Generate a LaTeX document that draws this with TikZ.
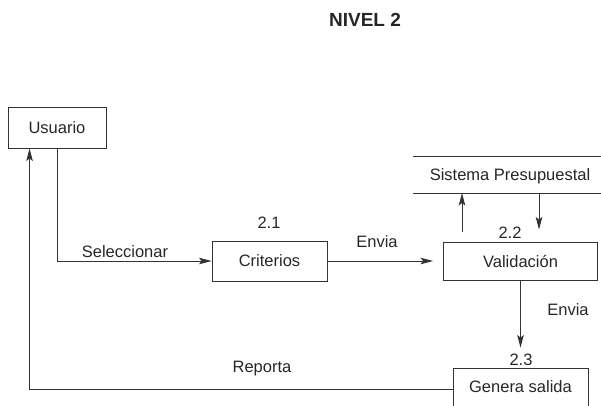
\documentclass[tikz,border=0pt]{standalone}
\usepackage{fontspec}
\setmainfont{Liberation Sans}
\usetikzlibrary{arrows.meta}
\begin{document}
\begin{tikzpicture}[x=1pt,y=-1pt,
  every node/.style={font=\fontsize{16.5}{19}\selectfont, text=black!85, inner sep=0pt},
  procbox/.style={draw=black!80, line width=0.9pt, rectangle},
  flow/.style={draw=black!80, line width=0.9pt, -{Stealth[length=12.5pt,width=6.5pt,inset=2.5pt]}},
  plain/.style={draw=black!80, line width=0.9pt}]
\useasboundingbox (0,0) rectangle (601,405);
\clip (0,0) rectangle (601,405);
% title
\node[font=\fontsize{19}{22}\selectfont\bfseries] (title) at (365,20) {NIVEL 2};
% boxes
\node[procbox, minimum width=98pt, minimum height=41pt] (usuario) at (57,127.5) {Usuario};
\node[procbox, minimum width=115pt, minimum height=40pt] (criterios) at (269.5,261) {Criterios};
\node[procbox, minimum width=154pt, minimum height=38pt] (valid) at (520.5,261) {Validación};
\node[procbox, minimum width=135pt, minimum height=38pt] (genera) at (520.5,387) {Genera salida};
% data store
\coordinate (sptl) at (413,156);
\coordinate (sptr) at (601,156);
\coordinate (spbl) at (413,193);
\coordinate (spbr) at (601,193);
\draw[plain] (sptl) -- (sptr);
\draw[plain] (spbl) -- (spbr);
\node (sp) at (510,176) {Sistema Presupuestal};
% numbers
\node (n21) at (269,223) {2.1};
\node (n22) at (510,233) {2.2};
\node (n23) at (521,360) {2.3};
% connectors
\draw[flow] (usuario.south) |- (criterios.west);
\node (lsel) at (125,252) {Seleccionar};
\draw[flow, shorten >=10pt] (criterios.east) -- (valid.west);
\node (lenv1) at (377,242) {Envia};
\coordinate (upst) at ([xshift=-58.5pt,yshift=10pt]valid.north);
\draw[flow] (upst) -- (upst |- spbl);
\coordinate (dnend) at ([xshift=18.5pt,yshift=12pt]valid.north);
\draw[flow] (dnend |- spbl) -- (dnend);
\draw[flow, shorten >=20pt] (valid.south) -- (genera.north);
\node (lenv2) at (568,310) {Envia};
\coordinate (repst) at ([yshift=-2pt]genera.west);
\coordinate (repend) at ([xshift=22pt]usuario.south west);
\draw[flow] (repst) -| (repend);
\node (lrep) at (262,369) {Reporta};
\end{tikzpicture}
\end{document}
